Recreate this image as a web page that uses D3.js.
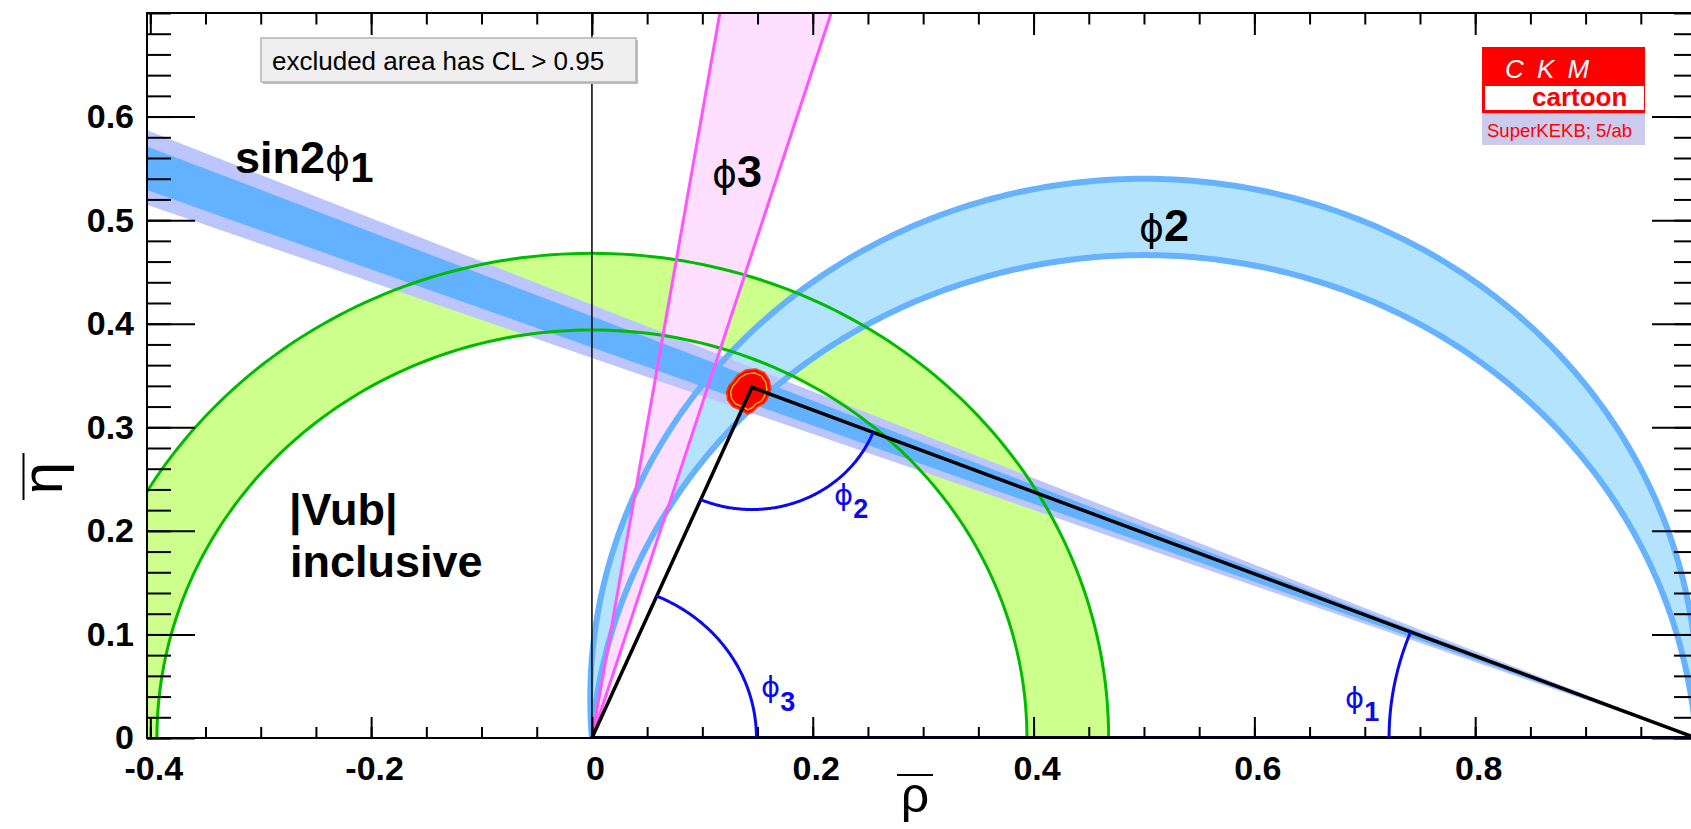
<!DOCTYPE html>
<html><head><meta charset="utf-8">
<script src="https://cdn.jsdelivr.net/npm/d3@7"></script>
<style>
body{margin:0;background:#fff;}
svg{display:block;}
text{font-family:"Liberation Sans",Arial,Helvetica,sans-serif;}
</style></head><body>
<svg id="chart" width="1691" height="829"></svg>
<script>
// ---------------- data ----------------
const xDomain = [-0.403, 1.0];
const yDomain = [0, 0.7];
const xMajorTicks = [-0.4, -0.2, 0, 0.2, 0.4, 0.6, 0.8];
const xTickLabels = ["-0.4", "-0.2", "0", "0.2", "0.4", "0.6", "0.8"];
const yMajorTicks = [0, 0.1, 0.2, 0.3, 0.4, 0.5, 0.6];
const yTickLabels = ["0", "0.1", "0.2", "0.3", "0.4", "0.5", "0.6"];
const xMinorStep = 0.05;
const yMinorStep = 0.02;

// |Vub| inclusive ring (radii around origin)
const vubRadii = [0.394, 0.468];
// sin2phi1 bands: phi1 angle ranges in degrees (wedges from (1,0))
const sin2phi1Outer = [20.15, 22.7];
const sin2phi1Inner = [20.66, 22.15];
// phi2 band: angle range in degrees (circles through (0,0) and (1,0))
const phi2Range = [85.6, 94.0];
// phi3 band: angle range in degrees (wedge from origin)
const phi3Range = [72.8, 80.6];
// triangle apex (rho, eta)
const apex = [0.145, 0.3386];
// fit region (outer red contour, inner yellow contour)
const blobOuter = [[0.1274,0.344],[0.132,0.3505],[0.1395,0.3553],[0.1486,0.3563],[0.1561,0.3527],[0.1606,0.3457],[0.1621,0.3367],[0.1591,0.328],[0.1561,0.3232],[0.1501,0.320],[0.1456,0.3151],[0.141,0.3128],[0.135,0.3167],[0.1274,0.320],[0.1229,0.3263],[0.122,0.3344],[0.1244,0.3408]];
const blobInner = [[0.130,0.3424],[0.1338,0.3477],[0.1399,0.3516],[0.1474,0.3525],[0.1536,0.3495],[0.1573,0.3438],[0.1585,0.3364],[0.156,0.3293],[0.1536,0.3253],[0.1486,0.3227],[0.145,0.3187],[0.1412,0.3168],[0.1363,0.320],[0.130,0.3227],[0.1263,0.3279],[0.1256,0.3345],[0.1276,0.3398]];
// angle-marker radii
const arcRadiusPhi1 = 0.278;
const arcRadiusPhi2 = 0.118;
const arcRadiusPhi3 = 0.149;

// ---------------- layout ----------------
const frame = {left: 147, top: 13, right: 1700, bottom: 738};
const x = d3.scaleLinear().domain(xDomain).range([frame.left, 1696]);
const y = d3.scaleLinear().domain(yDomain).range([frame.bottom, frame.top]);
const svg = d3.select("#chart");
const line = d3.line().x(d => x(d[0])).y(d => y(d[1]));
const deg = Math.PI / 180;
const PHI = "\u03D5";
const phiFont = "DejaVu Sans, Liberation Sans, sans-serif";

function arcPts(cx, cy, r, a0, a1, n = 160) {
  return d3.range(n + 1).map(i => {
    const a = a0 + (a1 - a0) * i / n;
    return [cx + r * Math.cos(a), cy + r * Math.sin(a)];
  });
}
function phi2Arc(alphaDeg) {
  const a = alphaDeg * deg;
  const cy = 0.5 / Math.tan(a), R = 0.5 / Math.sin(a);
  const t1 = Math.atan2(-cy, 0.5);
  return arcPts(0.5, cy, R, t1, Math.PI - t1, 240);
}
function wedgeFrom1(range) {
  const rL = -0.6;
  return [[1, 0], [rL, Math.tan(range[1] * deg) * (1 - rL)], [rL, Math.tan(range[0] * deg) * (1 - rL)]];
}
function lineFrom0(a) { const eT = 0.9; return [[0, 0], [eT / Math.tan(a * deg), eT]]; }

svg.append("defs").append("clipPath").attr("id", "plotClip")
  .append("rect").attr("x", frame.left).attr("y", frame.top)
  .attr("width", frame.right - frame.left).attr("height", frame.bottom - frame.top);

const plot = svg.append("g").attr("clip-path", "url(#plotClip)");

// |Vub| ring fill
const vubPoly = arcPts(0, 0, vubRadii[1], 0, Math.PI).concat(arcPts(0, 0, vubRadii[0], Math.PI, 0));
plot.append("path").attr("d", line(vubPoly) + "Z").attr("fill", "#ccff8c");

// phi2 band fill
const phi2Outer = phi2Arc(phi2Range[0]);
const phi2InnerArc = phi2Arc(phi2Range[1]);
plot.append("path").attr("d", line(phi2Outer.concat(phi2InnerArc.slice().reverse())) + "Z").attr("fill", "#b4e4fd");

// phi3 band fill
plot.append("path").attr("d", line([lineFrom0(phi3Range[1])[0], lineFrom0(phi3Range[1])[1], lineFrom0(phi3Range[0])[1]]) + "Z")
  .attr("fill", "#ffdfff");

// sin2phi1 bands
plot.append("path").attr("d", line(wedgeFrom1(sin2phi1Outer)) + "Z").attr("fill", "#bcc6fc");
plot.append("path").attr("d", line(wedgeFrom1(sin2phi1Inner)) + "Z").attr("fill", "#63b2ff");

// phi2 strokes
[phi2Outer, phi2InnerArc].forEach(a => plot.append("path").attr("d", line(a)).attr("fill", "none").attr("stroke", "#66b2ff").attr("stroke-width", 6));
// Vub strokes
vubRadii.forEach(r => plot.append("path").attr("d", line(arcPts(0, 0, r, 0, Math.PI))).attr("fill", "none").attr("stroke", "#00bb00").attr("stroke-width", 3));
// phi3 strokes
phi3Range.forEach(a => plot.append("path").attr("d", line(lineFrom0(a))).attr("stroke", "#ff55ff").attr("stroke-width", 3));

// rho = 0 vertical line
plot.append("line").attr("x1", x(0)).attr("x2", x(0)).attr("y1", frame.top).attr("y2", frame.bottom)
  .attr("stroke", "#000").attr("stroke-width", 1.5);

// fit region
plot.append("path").attr("d", line(blobOuter) + "Z").attr("fill", "#ff0000").attr("stroke", "#f04010").attr("stroke-width", 1.5);
plot.append("path").attr("d", line(blobInner) + "Z").attr("fill", "none").attr("stroke", "#ffdd00").attr("stroke-width", 1.2);

// triangle
plot.append("path").attr("d", line([[0, 0], apex, [1, 0]]) + "Z").attr("fill", "none")
  .attr("stroke", "#000").attr("stroke-width", 3.5).attr("stroke-linejoin", "miter");
plot.append("line").attr("x1", x(0)).attr("x2", x(1)).attr("y1", y(0)).attr("y2", y(0)).attr("stroke", "#000022").attr("stroke-width", 4);

// angle markers
const blue = "#0a0af0";
const aApex = Math.atan2(apex[1], apex[0]);
const a1 = Math.atan2(apex[1], 1 - apex[0]);
plot.append("path").attr("d", line(arcPts(0, 0, arcRadiusPhi3, aApex, 0))).attr("fill", "none").attr("stroke", blue).attr("stroke-width", 3);
plot.append("path").attr("d", line(arcPts(1, 0, arcRadiusPhi1, Math.PI - a1, Math.PI))).attr("fill", "none").attr("stroke", blue).attr("stroke-width", 3);
plot.append("path").attr("d", line(arcPts(apex[0], apex[1], arcRadiusPhi2, Math.atan2(-apex[1], -apex[0]) + 2 * Math.PI, Math.atan2(-apex[1], 1 - apex[0]) + 2 * Math.PI)))
  .attr("fill", "none").attr("stroke", blue).attr("stroke-width", 3);

// ---------------- axes ----------------
const xMinor = d3.range(-0.4, 1.0001, xMinorStep).map(v => +v.toFixed(3));
const yMinor = d3.range(0, 0.7001, yMinorStep).map(v => +v.toFixed(3));
function styleAxis(g) {
  g.select(".domain").remove();
  g.selectAll(".tick line").attr("stroke", "#000").attr("stroke-width", 2);
}
svg.append("g").attr("transform", `translate(0,${frame.bottom})`)
  .call(d3.axisBottom(x).tickValues(xMinor).tickSize(-11).tickFormat("")).call(styleAxis);
const xAx = svg.append("g").attr("transform", `translate(0,${frame.bottom})`)
  .call(d3.axisBottom(x).tickValues(xMajorTicks).tickSize(-21).tickPadding(18).tickFormat((d, i) => xTickLabels[i])).call(styleAxis);
xAx.selectAll("text").attr("font-size", 34).attr("font-weight", "bold").attr("fill", "#000").attr("font-family", "Liberation Sans, Arial, sans-serif").attr("dx", 3);

svg.append("g").attr("transform", `translate(0,${frame.top})`)
  .call(d3.axisTop(x).tickValues(xMinor).tickSize(-11.5).tickFormat("")).call(styleAxis);
svg.append("g").attr("transform", `translate(0,${frame.top})`)
  .call(d3.axisTop(x).tickValues(xMajorTicks).tickSize(-22).tickFormat("")).call(styleAxis);

svg.append("g").attr("transform", `translate(${frame.left},0)`)
  .call(d3.axisLeft(y).tickValues(yMinor).tickSize(-24).tickFormat("")).call(styleAxis);
const yAx = svg.append("g").attr("transform", `translate(${frame.left},0)`)
  .call(d3.axisLeft(y).tickValues(yMajorTicks).tickSize(-48).tickPadding(13).tickFormat((d, i) => yTickLabels[i])).call(styleAxis);
yAx.selectAll("text").attr("font-size", 34).attr("font-weight", "bold").attr("fill", "#000").attr("font-family", "Liberation Sans, Arial, sans-serif");

svg.append("g").attr("transform", `translate(${frame.right},0)`)
  .call(d3.axisRight(y).tickValues(yMinor).tickSize(-26).tickFormat("")).call(styleAxis);
svg.append("g").attr("transform", `translate(${frame.right},0)`)
  .call(d3.axisRight(y).tickValues(yMajorTicks).tickSize(-48).tickFormat("")).call(styleAxis);

// frame
svg.append("rect").attr("x", frame.left).attr("y", frame.top).attr("width", frame.right - frame.left).attr("height", frame.bottom - frame.top)
  .attr("fill", "none").attr("stroke", "#000").attr("stroke-width", 2);

// axis titles
svg.append("text").attr("x", 915).attr("y", 812).attr("text-anchor", "middle").attr("font-size", 50).text("ρ");
svg.append("line").attr("x1", 897).attr("x2", 933).attr("y1", 775).attr("y2", 775).attr("stroke", "#000").attr("stroke-width", 2);
svg.append("text").attr("transform", "translate(62,478) rotate(-90)").attr("text-anchor", "middle").attr("font-size", 58).text("η");
svg.append("line").attr("x1", 23.5).attr("x2", 23.5).attr("y1", 453).attr("y2", 500).attr("stroke", "#000").attr("stroke-width", 2);

// ---------------- labels ----------------
function richText(px, py, parts) {
  const t = svg.append("text").attr("x", px).attr("y", py);
  parts.forEach(p => {
    const s = t.append("tspan").text(p.t).attr("font-size", p.size).attr("font-weight", p.bold ? "bold" : "normal").attr("fill", p.color || "#000");
    if (p.phi) s.attr("font-family", phiFont);
    if (p.dy) s.attr("dy", p.dy);
  });
  return t;
}
richText(235, 173, [{t: "sin2", size: 45, bold: true}, {t: PHI, size: 38, phi: true}, {t: "1", size: 42, bold: true, dy: 9}]);
richText(712, 187, [{t: PHI, size: 38, phi: true}, {t: "3", size: 45, bold: true}]);
richText(1139, 241, [{t: PHI, size: 38, phi: true}, {t: "2", size: 45, bold: true}]);
richText(289, 525, [{t: "|Vub|", size: 45, bold: true}]);
richText(290, 577, [{t: "inclusive", size: 45, bold: true}]);
richText(1345, 708, [{t: PHI, size: 29, phi: true, color: blue}, {t: "1", size: 27, bold: true, color: blue, dy: 13}]);
richText(761, 697, [{t: PHI, size: 29, phi: true, color: blue}, {t: "3", size: 27, bold: true, color: blue, dy: 14}]);
richText(834, 505, [{t: PHI, size: 29, phi: true, color: blue}, {t: "2", size: 27, bold: true, color: blue, dy: 13}]);

// excluded-area box
svg.append("rect").attr("x", 263).attr("y", 40).attr("width", 375).attr("height", 44).attr("fill", "#bdbdbd");
svg.append("rect").attr("x", 261).attr("y", 38).attr("width", 375).attr("height", 44).attr("fill", "#efefef").attr("stroke", "#b4b4b4").attr("stroke-width", 1.5);
svg.append("text").attr("x", 272).attr("y", 70).attr("font-size", 26).attr("fill", "#000").text("excluded area has CL > 0.95");

// CKM logo
svg.append("rect").attr("x", 1482).attr("y", 47).attr("width", 163).attr("height", 66.5).attr("fill", "#ff0000");
svg.append("rect").attr("x", 1485).attr("y", 86).attr("width", 159).attr("height", 24).attr("fill", "#ffffff");
svg.append("rect").attr("x", 1482).attr("y", 113.5).attr("width", 163).attr("height", 31.5).attr("fill", "#cbcbee");
svg.append("text").attr("x", 1505).attr("y", 78).attr("font-size", 26).attr("font-style", "italic").attr("fill", "#fff").attr("letter-spacing", 3).text("C K M");
svg.append("text").attr("x", 1532).attr("y", 106).attr("font-size", 26).attr("font-weight", "bold").attr("fill", "#ff0000").text("cartoon");
svg.append("text").attr("x", 1487).attr("y", 137).attr("font-size", 18.5).attr("fill", "#ff0000").text("SuperKEKB; 5/ab");
</script>
</body></html>
